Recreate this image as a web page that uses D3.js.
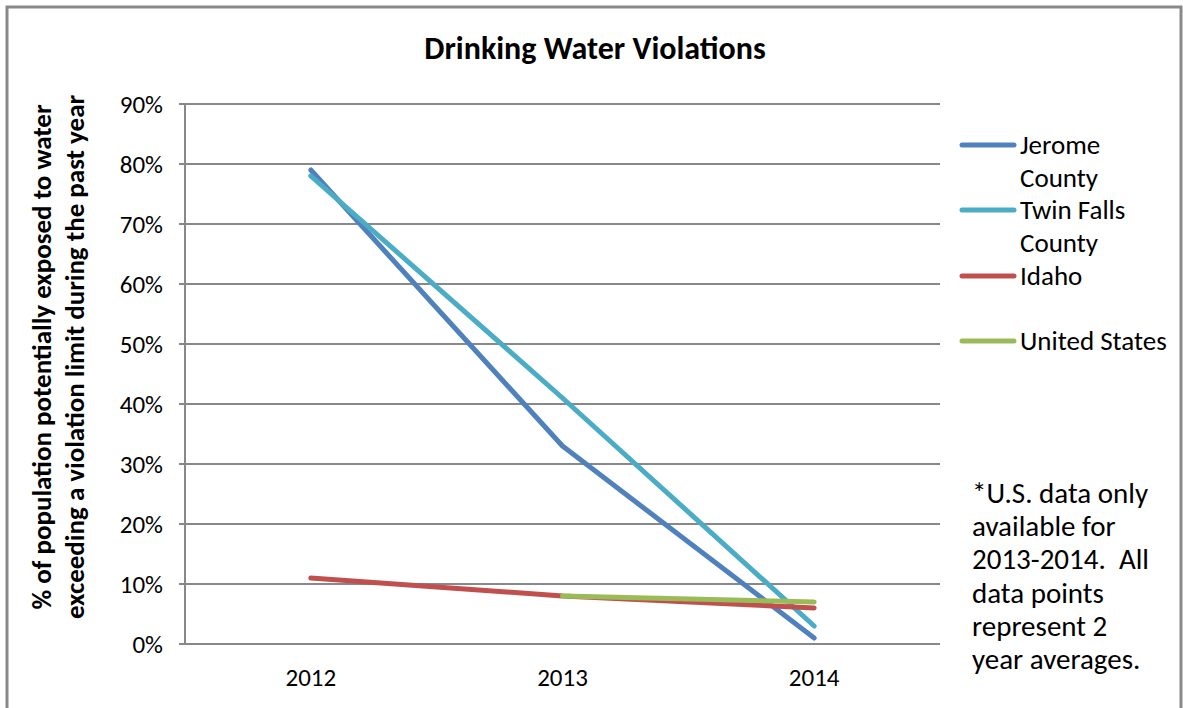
<!DOCTYPE html>
<html>
<head>
  <meta charset="UTF-8">
  <title>Drinking Water Violations</title>
  <style>
    body { margin: 0; background: #fff; }
    svg text { font-family: Carlito, "Open Sans", "Noto Sans", sans-serif; fill: #000; }
  </style>
</head>
<body>
  <svg id="chart"></svg>
  <script src="https://d3js.org/d3.v7.min.js"></script>
  <script>
    // data
    var years = ["2012", "2013", "2014"];
    var jerome = [79, 33, 1];
    var twinFalls = [78, 41, 3];
    var idaho = [11, 8, 6];
    var unitedStates = [null, 8, 7];
    var yTicks = [0, 10, 20, 30, 40, 50, 60, 70, 80, 90];

    var seriesList = [
      { name: ["Jerome", "County"], values: jerome, color: "#4f81bd" },
      { name: ["Twin Falls", "County"], values: twinFalls, color: "#4bacc6" },
      { name: ["Idaho"], values: idaho, color: "#c0504d" },
      { name: ["United States"], values: unitedStates, color: "#9bbb59" }
    ];

    var W = 1183, H = 708;
    var margin = { top: 104, right: 243, bottom: 64, left: 185 },
        width = W - margin.left - margin.right,
        height = H - margin.top - margin.bottom;

    var root = d3.select("#chart").attr("width", W).attr("height", H);

    // chart frame
    root.append("rect")
      .attr("x", 7).attr("y", 7)
      .attr("width", W - 9).attr("height", H + 10)
      .attr("fill", "none").attr("stroke", "#898989").attr("stroke-width", 3);

    var svg = root.append("g")
      .attr("transform", "translate(" + margin.left + "," + margin.top + ")");

    var x = d3.scaleBand().domain(years).range([0, width]);
    var y = d3.scaleLinear().domain([0, 90]).range([height, 0]);

    // gridlines
    svg.append("g")
      .selectAll("line")
      .data(yTicks)
      .enter().append("line")
      .attr("x1", -6).attr("x2", width)
      .attr("y1", function(d) { return y(d); })
      .attr("y2", function(d) { return y(d); })
      .attr("stroke", "#888").attr("stroke-width", 2);

    // y axis line
    svg.append("line")
      .attr("x1", 0).attr("x2", 0).attr("y1", 0).attr("y2", height)
      .attr("stroke", "#888").attr("stroke-width", 2);

    // y tick labels
    var yAxis = svg.append("g")
      .call(d3.axisLeft(y).tickValues(yTicks).tickSize(0).tickPadding(22)
        .tickFormat(function(d) { return d + "%"; }));
    yAxis.select(".domain").remove();
    yAxis.selectAll("text").style("font-size", "25px").style("font-family", null);

    // x tick labels
    var xAxis = svg.append("g")
      .attr("transform", "translate(0," + height + ")")
      .call(d3.axisBottom(x).tickSize(0).tickPadding(24));
    xAxis.select(".domain").remove();
    xAxis.selectAll("text").style("font-size", "25px").style("font-family", null);

    // lines
    var line = d3.line()
      .defined(function(d) { return d != null; })
      .x(function(d, i) { return x(years[i]) + x.bandwidth() / 2; })
      .y(function(d) { return y(d); });

    svg.selectAll(".series")
      .data(seriesList)
      .enter().append("path")
      .attr("class", "series")
      .attr("d", function(s) { return line(s.values); })
      .attr("fill", "none")
      .attr("stroke", function(s) { return s.color; })
      .attr("stroke-width", 5)
      .attr("stroke-linecap", "round")
      .attr("stroke-linejoin", "round");

    // title
    root.append("text")
      .attr("x", 595).attr("y", 59)
      .attr("text-anchor", "middle")
      .style("font-size", "32px").style("font-weight", "bold")
      .text("Drinking Water Violations");

    // y axis title
    var yt = root.append("text")
      .attr("transform", "translate(0,357) rotate(-90)")
      .attr("text-anchor", "middle")
      .style("font-size", "27px").style("font-weight", "bold");
    yt.append("tspan").attr("x", 0).attr("y", 51).text("% of population potentially exposed to water");
    yt.append("tspan").attr("x", 0).attr("y", 84).text("exceeding a violation limit during the past year");

    // legend
    var legendY = [145, 210, 276, 341];
    var legend = root.selectAll(".legend")
      .data(seriesList)
      .enter().append("g")
      .attr("class", "legend")
      .attr("transform", function(d, i) { return "translate(960," + legendY[i] + ")"; });
    legend.append("line")
      .attr("x1", 2).attr("x2", 54).attr("y1", 0).attr("y2", 0)
      .attr("stroke", function(d) { return d.color; })
      .attr("stroke-width", 5).attr("stroke-linecap", "round");
    legend.append("text")
      .style("font-size", "27px")
      .selectAll("tspan")
      .data(function(d) { return d.name; })
      .enter().append("tspan")
      .attr("x", 60)
      .attr("y", function(d, i) { return 9 + i * 33; })
      .text(function(d) { return d; });

    // note
    var noteLines = ["*U.S. data only", "available for", "2013-2014.  All", "data points", "represent 2", "year averages."];
    root.append("text")
      .style("font-size", "29px")
      .selectAll("tspan")
      .data(noteLines)
      .enter().append("tspan")
      .attr("x", 972)
      .attr("y", function(d, i) { return 503 + i * 33.2; })
      .style("white-space", "pre")
      .text(function(d) { return d; });
  </script>
</body>
</html>
